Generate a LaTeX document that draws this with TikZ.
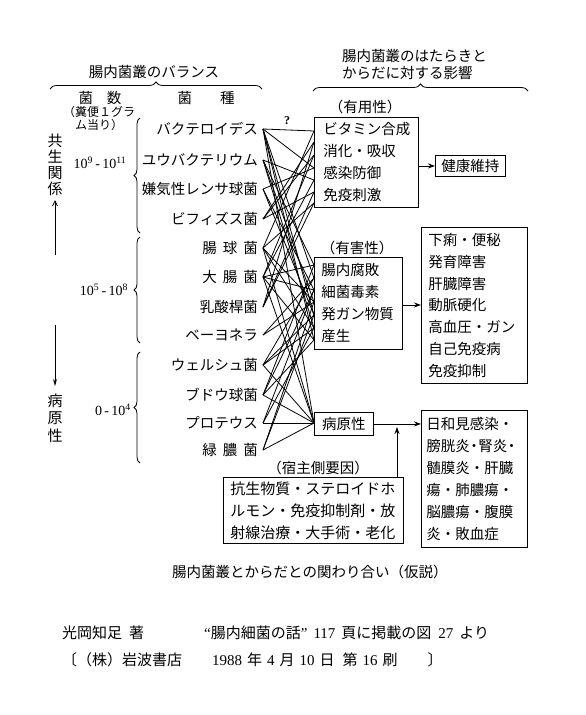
\documentclass[tikz,border=0pt]{standalone}
\usepackage{fontspec}
\setmainfont{Liberation Serif}
\newfontfamily\jp{Noto Sans CJK JP}
\usetikzlibrary{decorations.pathreplacing,arrows.meta}
\begin{document}
\begin{tikzpicture}[x=1pt,y=-1pt,
  lab/.style={font=\jp\fontsize{14.5}{17}\selectfont, inner sep=0pt},
  small/.style={font=\jp\fontsize{12}{13}\selectfont, inner sep=0pt},
  num/.style={font=\fontsize{14}{16}\selectfont, inner sep=0pt},
  box/.style={draw, line width=0.9pt, anchor=north west, inner sep=0pt, align=left},
  conn/.style={line width=0.8pt},
  arr/.style={line width=0.9pt, -{Stealth[length=7pt,width=5pt]}},
  brc/.style={line width=0.8pt, decorate, decoration={brace, amplitude=7pt}},
  gbrc/.style={line width=0.8pt, decorate, decoration={brace, amplitude=6pt}}]
\fill[white] (0,0) rectangle (586,715);
\useasboundingbox (0,0) rectangle (586,715);

% titles
\node[lab] (t1) at (154,72) {腸内菌叢のバランス};
\node[lab, anchor=west, align=left] (t2) at (342,64.5) {腸内菌叢のはたらきと\\からだに対する影響};
\coordinate (bl1) at (50,89); \coordinate (bl2) at (262,89);
\coordinate (br1) at (313,91); \coordinate (br2) at (528,91);
\draw[brc] (bl1) -- (bl2);
\draw[brc] (br1) -- (br2);

% column heads
\node[lab] (c1) at (100,98) {菌\hspace{14pt}数};
\node[lab] (c2) at (206,98) {菌\hspace{28pt}種};
\node[small, anchor=west] (c3) at (63,112) {（糞便１グラ};
\node[small, anchor=west] (c4) at (75,125) {ム当り）};

% vertical labels and arrows
\node[font=\jp\fontsize{15}{16}\selectfont, inner sep=0pt, align=center] (v1) at (55,165) {共\\生\\関\\係};
\node[font=\jp\fontsize{15}{17.5}\selectfont, inner sep=0pt, align=center] (v2) at (55,418) {病\\原\\性};
\coordinate (va1) at (55,255); \coordinate (va2) at (55,200);
\coordinate (vb1) at (55,325); \coordinate (vb2) at (55,386);
\draw[line width=0.8pt, -{Straight Barb[length=5pt,width=5pt]}] (va1) -- (va2);
\draw[line width=0.8pt, -{Stealth[length=7pt,width=4pt]}] (vb1) -- (vb2);

% counts
\node[num] (n1) at (100,163) {10\textsuperscript{9}\,-\,10\textsuperscript{11}};
\node[num] (n2) at (104,290) {10\textsuperscript{5}\,-\,10\textsuperscript{8}};
\node[num] (n3) at (113,410) {0\,-\,10\textsuperscript{4}};

% group braces
\coordinate (g1a) at (140,233); \coordinate (g1b) at (140,118);
\coordinate (g2a) at (140,343); \coordinate (g2b) at (140,237);
\coordinate (g3a) at (140,463); \coordinate (g3b) at (140,352);
\draw[gbrc] (g1a) -- (g1b);
\draw[gbrc] (g2a) -- (g2b);
\draw[gbrc] (g3a) -- (g3b);

% bacteria
\node[lab, anchor=east] (s1) at (258,129) {バクテロイデス};
\node[lab, anchor=east] (s2) at (258,160) {ユウバクテリウム};
\node[lab, anchor=east] (s3) at (258,189) {嫌気性レンサ球菌};
\node[lab, anchor=east] (s4) at (258,219) {ビフィズス菌};
\node[lab, anchor=east] (s5) at (258,248) {腸\hspace{6pt}球\hspace{6pt}菌};
\node[lab, anchor=east] (s6) at (258,277) {大\hspace{6pt}腸\hspace{6pt}菌};
\node[lab, anchor=east] (s7) at (258,307) {乳酸桿菌};
\node[lab, anchor=east] (s8) at (258,335) {ベーヨネラ};
\node[lab, anchor=east] (s9) at (258,365) {ウェルシュ菌};
\node[lab, anchor=east] (s10) at (258,395) {ブドウ球菌};
\node[lab, anchor=east] (s11) at (258,423) {プロテウス};
\node[lab, anchor=east] (s12) at (258,450) {緑\hspace{6pt}膿\hspace{6pt}菌};
\foreach \i/\y in {1/129,2/160,3/189,4/219,5/248,6/277,7/307,8/335,9/365,10/395,11/423,12/450}
  \coordinate (b\i) at (263,\y);

% boxes
\node[lab] (l1) at (365,107) {（有用性）};
\node[box, minimum width=104pt, minimum height=90pt, text width=86pt,
  font=\jp\fontsize{14.5}{22}\selectfont] (U) at (314,117) {ビタミン合成\\消化・吸収\\感染防御\\免疫刺激};
\node[box, minimum width=70pt, minimum height=21pt, align=center,
  font=\jp\fontsize{14.5}{17}\selectfont] (K) at (435,155) {健康維持};
\node[lab] (l2) at (357,248) {（有害性）};
\node[box, minimum width=88pt, minimum height=92pt, text width=74pt,
  font=\jp\fontsize{14.5}{22}\selectfont] (H) at (314,257) {腸内腐敗\\細菌毒素\\発ガン物質\\産生};
\node[box, minimum width=106pt, minimum height=156pt, text width=92pt,
  font=\jp\fontsize{14.5}{21.7}\selectfont] (D) at (421,227) {下痢・便秘\\発育障害\\肝臓障害\\動脈硬化\\高血圧・ガン\\自己免疫病\\免疫抑制};
\node[box, minimum width=59pt, minimum height=23pt, align=center,
  font=\jp\fontsize{14.5}{17}\selectfont] (P) at (314,412) {病原性};
\node[box, minimum width=106pt, minimum height=137pt, text width=96pt,
  font=\jp\fontsize{14.5}{22}\selectfont] (O) at (421,410) {日和見感染・\\膀胱炎\kern-3pt・\kern-3pt腎炎\kern-3pt・\\髄膜炎・肝臓\\瘍・肺膿瘍・\\脳膿瘍・腹膜\\炎・敗血症};
\node[lab] (l3) at (318,468) {（宿主側要因）};
\node[box, minimum width=180pt, minimum height=66pt, text width=166pt,
  font=\jp\fontsize{15}{22}\selectfont] (Q) at (223,477) {抗生物質・ステロイドホ\\ルモン・免疫抑制剤・放\\射線治療・大手術・老化};

% arrows between boxes
\draw[arr] (U.east |- K.west) -- (K.west);
\draw[arr] (H.east |- 0,305) -- (D.west |- 0,305);
\draw[arr] (P.east) -- (P.east -| O.west);
\coordinate (qa) at (397,477);
\draw[arr, shorten >=3pt] (qa) -- (qa |- P.east);

% right-hand anchor points
\foreach \i/\y in {1/131,2/142,3/155,4/168,5/180,6/192,7/203}
  \coordinate (u\i) at (314,\y);
\foreach \i/\y in {1/265,2/278,3/290,4/302,5/315,6/328,7/340}
  \coordinate (h\i) at (314,\y);
\coordinate (p) at (314,423);

% connectors
\foreach \a/\b in {b1/u1,b1/u4,b1/h2,b1/h5,b1/h7,b1/p,
  b2/u5,b2/h1,b2/h4,b2/h6,
  b3/u4,b3/h3,b3/h5,
  b4/u2,b4/u3,b4/u6,
  b5/u1,b5/u7,b5/h4,b5/h6,b5/p,
  b6/u3,b6/u5,b6/h1,b6/h3,b6/h7,b6/p,
  b7/u2,b7/u6,b7/u7,
  b8/h4,b8/h2,
  b9/h2,b9/h5,b9/h6,b9/p,
  b10/h1,b10/h3,b10/h7,b10/p,
  b11/h3,b11/h6,b11/p,
  b12/h4,b12/h5,b12/p}
  \draw[conn] (\a) -- (\b);
\node[font=\fontsize{12}{12}\selectfont\bfseries, inner sep=0pt] (qm) at (287,121) {?};

% caption and source
\node[lab, anchor=west] (cap) at (172,572) {腸内菌叢とからだとの関わり合い（仮説）};
\node[font=\fontsize{15}{17}\selectfont, inner sep=0pt, anchor=west] (src1) at (62,633)
  {{\jp 光岡知足}\hspace{7pt}{\jp 著}\hspace{60pt}“{\jp 腸内細菌の話}”\hspace{6pt}117\hspace{6pt}{\jp 頁に掲載の図}\hspace{7pt}27\hspace{6pt}{\jp より}};
\node[font=\fontsize{15}{17}\selectfont, inner sep=0pt, anchor=west] (src2) at (62,660)
  {{\jp 〔（株）岩波書店}\hspace{30pt}1988\hspace{5pt}{\jp 年}\hspace{5pt}4\hspace{5pt}{\jp 月}\hspace{5pt}10\hspace{5pt}{\jp 日}\hspace{8pt}{\jp 第}\hspace{5pt}16\hspace{5pt}{\jp 刷}\hspace{30pt}{\jp 〕}};
\end{tikzpicture}
\end{document}
